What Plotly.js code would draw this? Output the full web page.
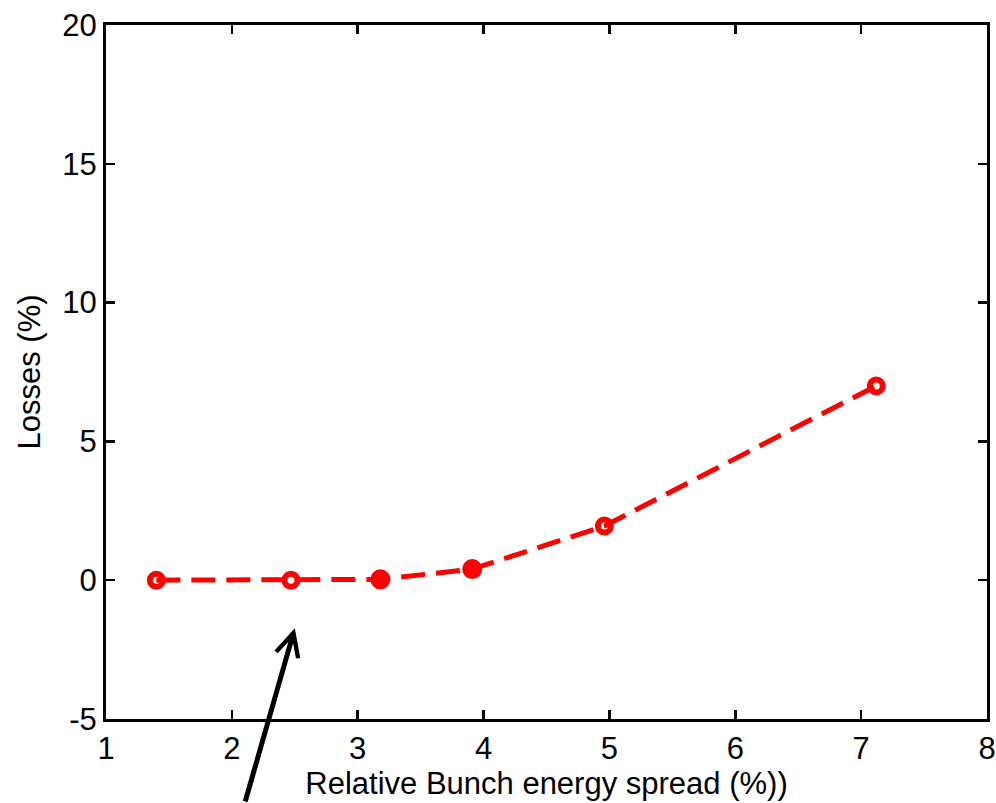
<!DOCTYPE html>
<html>
<head>
<meta charset="utf-8">
<script src="https://cdn.plot.ly/plotly-3.0.1.min.js"></script>
<style>html,body{margin:0;padding:0;background:#fff;}</style>
</head>
<body>
<div id="chart" style="width:996px;height:803px;"></div>
<script>
const energySpread = [1.40, 2.47, 3.18, 3.91, 4.96, 7.12];
const losses = [0.0, 0.0, 0.03, 0.4, 1.95, 7.0];
const xTicks = [1, 2, 3, 4, 5, 6, 7, 8];
const yTicks = [-5, 0, 5, 10, 15, 20];
const markerSymbols = ['circle-open', 'circle-open', 'circle', 'circle', 'circle-open', 'circle-open'];
const markerSizes = [13, 13, 14, 14, 13, 13];

const trace = {
  x: energySpread,
  y: losses,
  type: 'scatter',
  mode: 'lines+markers',
  line: {color: '#ff0000', width: 5, dash: '24px,11px'},
  marker: {symbol: markerSymbols, size: markerSizes, opacity: 1, color: '#ff0000', line: {color: '#ff0000', width: 6}},
  showlegend: false,
  cliponaxis: false
};

const fontFamily = 'Liberation Sans, Arial, sans-serif';
const axisFont = {family: fontFamily, size: 31, color: '#000'};

const layout = {
  width: 996, height: 803,
  margin: {l: 106, r: 9, t: 25, b: 84},
  paper_bgcolor: '#fff', plot_bgcolor: '#fff',
  xaxis: {
    range: [1, 8], tickvals: xTicks, ticktext: xTicks.map(String),
    ticks: 'inside', ticklen: 9, tickwidth: 2.5, tickcolor: '#000',
    showline: true, linewidth: 3, linecolor: '#000', mirror: 'ticks',
    showgrid: false, zeroline: false, automargin: false,
    tickfont: axisFont,
    title: {text: 'Relative Bunch energy spread (%))', font: axisFont, standoff: 2}
  },
  yaxis: {
    range: [-5, 20], tickvals: yTicks, ticktext: yTicks.map(String),
    ticks: 'inside', ticklen: 9, tickwidth: 2.5, tickcolor: '#000',
    showline: true, linewidth: 3, linecolor: '#000', mirror: 'ticks',
    showgrid: false, zeroline: false, automargin: false,
    tickfont: axisFont,
    title: {text: 'Losses (%)', font: axisFont, standoff: 13}
  },
  annotations: [{
    x: 2.5, y: -1.73, xref: 'x', yref: 'y',
    axref: 'pixel', ayref: 'pixel', ax: -50, ay: 180,
    text: '', showarrow: true, arrowhead: 5, arrowsize: 0.9, arrowwidth: 5, arrowcolor: '#000'
  }]
};

Plotly.newPlot('chart', [trace], layout, {displayModeBar: false, staticPlot: true});
</script>
</body>
</html>
